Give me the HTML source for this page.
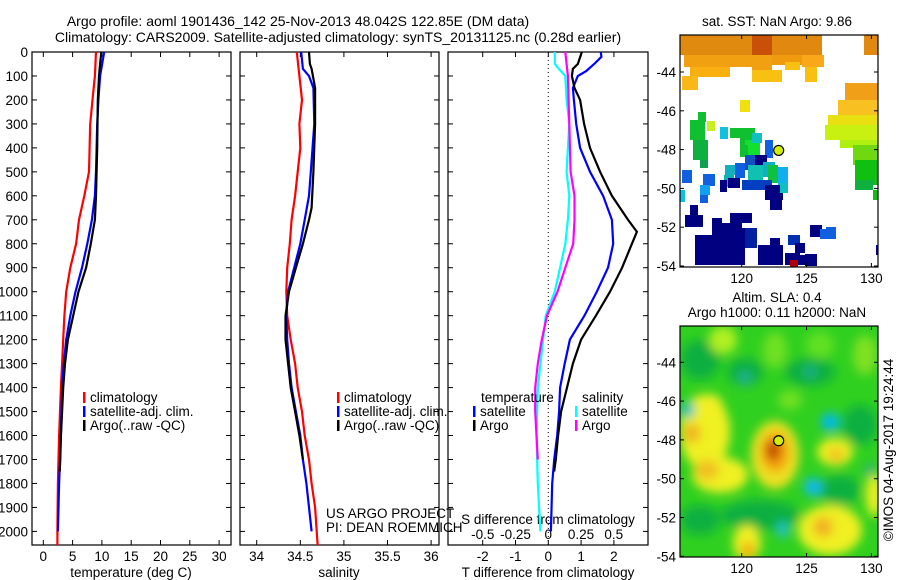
<!DOCTYPE html>
<html><head><meta charset="utf-8"><style>
body{margin:0;background:#fff;}
svg{display:block;font-family:"Liberation Sans",sans-serif;}
text{font-size:13.5px;fill:#000;}
.ttl{font-size:14px;}
</style></head><body>
<svg id="fig" width="900" height="580" viewBox="0 0 900 580">
<defs>
<clipPath id="c1"><rect x="32" y="52" width="199" height="493"/></clipPath>
<clipPath id="c2"><rect x="240" y="52" width="199" height="493"/></clipPath>
<clipPath id="c3"><rect x="448" y="52" width="200" height="493"/></clipPath>
<clipPath id="cm1"><rect x="680" y="35" width="198" height="232"/></clipPath>
<clipPath id="cm2"><rect x="680" y="326" width="198" height="231"/></clipPath>
<filter id="bl" x="-50%" y="-50%" width="200%" height="200%"><feGaussianBlur stdDeviation="5"/></filter>
</defs>
<text class="ttl" x="298" y="26" text-anchor="middle">Argo profile: aoml 1901436_142 25-Nov-2013 48.042S 122.85E (DM data)</text>
<text class="ttl" x="338" y="42" text-anchor="middle">Climatology: CARS2009. Satellite-adjusted climatology: synTS_20131125.nc (0.28d earlier)</text>
<g id="p1"></g>
<g id="p2"></g>
<g id="p3"></g>
<g id="m1"></g>
<g id="m2"></g>
<text x="777" y="26" text-anchor="middle">sat. SST: NaN Argo: 9.86</text>
<text x="777" y="302" text-anchor="middle">Altim. SLA: 0.4</text>
<text x="777" y="317" text-anchor="middle">Argo h1000: 0.11 h2000: NaN</text>
<text transform="translate(893,450) rotate(-90)" text-anchor="middle">©IMOS 04-Aug-2017 19:24:44</text>
</svg>
<script>
// ---- data ----
const depthTicks=[0,100,200,300,400,500,600,700,800,900,1000,1100,1200,1300,1400,1500,1600,1700,1800,1900,2000];
const tempTicks=[0,5,10,15,20,25,30];
const salTicks=[34,34.5,35,35.5,36];
const tdiffTicks=[-2,-1,0,1,2];
const sdiffTicks=[-0.5,-0.25,0,0.25,0.5];
const lonTicks=[120,125,130];
const latTicks=[-44,-46,-48,-50,-52,-54];

const tClimDepth=[0,100,200,300,400,500,600,700,800,900,1000,1100,1200,1300,1400,1600,1800,2000,2060];
const tClim=[9.0,8.8,8.4,8.0,7.9,7.8,7.0,6.1,5.6,4.6,3.9,3.6,3.4,3.2,3.0,2.7,2.5,2.4,2.4];
const tSatDepth=[0,100,200,300,500,600,700,800,900,1000,1100,1200,1300,1400,1600,1800,2000];
const tSat=[10.4,9.7,9.4,9.2,9.0,8.8,8.3,7.5,6.6,5.5,4.6,3.9,3.5,3.2,3.0,2.7,2.5];
const tArgoDepth=[0,50,100,200,400,600,700,800,900,1000,1100,1200,1300,1400,1500,1600,1700,1750];
const tArgo=[9.9,9.7,9.5,9.3,9.2,9.0,8.8,8.1,7.3,6.0,5.1,4.2,3.7,3.4,3.2,3.0,2.9,2.8];

const sClimDepth=[0,100,200,300,400,600,700,800,900,1000,1100,1200,1300,1400,1500,1600,1700,1800,1900,2060];
const sClim=[34.46,34.49,34.52,34.49,34.50,34.44,34.40,34.38,34.35,34.34,34.35,34.39,34.44,34.47,34.52,34.55,34.60,34.63,34.67,34.70];
const sSatDepth=[0,70,100,150,300,500,600,700,800,900,1000,1100,1200,1300,1400,1500,1600,1700,1800,1900,2000];
const sSat=[34.51,34.53,34.60,34.65,34.66,34.62,34.60,34.55,34.50,34.43,34.36,34.34,34.35,34.37,34.40,34.45,34.50,34.53,34.57,34.60,34.63];
const sArgoDepth=[0,50,70,150,300,500,650,700,800,900,1000,1100,1200,1300,1400,1500,1600,1700];
const sArgo=[34.60,34.61,34.63,34.67,34.67,34.65,34.63,34.60,34.53,34.45,34.37,34.33,34.33,34.36,34.39,34.44,34.49,34.53];

const dTArgoDepth=[0,50,70,100,150,200,300,400,500,600,700,750,800,900,1000,1100,1200,1300,1400,1500,1600,1700,1750];
const dTArgo=[1.02,0.9,0.75,0.72,0.8,0.97,1.09,1.27,1.58,1.94,2.43,2.7,2.55,2.25,1.88,1.45,1.0,0.75,0.57,0.39,0.3,0.23,0.18];
const dTSatDepth=[0,20,50,80,100,150,200,300,400,500,600,700,800,900,1000,1100,1200,1300,1400,1500,1600,1700,1800,2000];
const dTSat=[1.6,1.62,1.4,1.15,0.9,0.75,0.78,0.85,0.97,1.27,1.67,1.94,1.98,1.82,1.48,1.1,0.66,0.5,0.36,0.33,0.27,0.18,0.12,0.08];
const dSSatDepth=[0,50,70,100,200,300,400,500,600,700,800,900,1000,1100,1200,1400,1600,1800,2000];
const dSSat=[0.05,0.05,0.08,0.13,0.14,0.16,0.15,0.14,0.16,0.15,0.13,0.09,0.05,-0.02,-0.04,-0.08,-0.09,-0.08,-0.06];
const dSArgoDepth=[0,100,300,500,600,700,800,900,1000,1100,1200,1300,1400,1500,1600,1700];
const dSArgo=[0.13,0.15,0.16,0.17,0.2,0.2,0.19,0.13,0.07,-0.01,-0.05,-0.08,-0.1,-0.1,-0.09,-0.08];

const floatLon=122.85, floatLat=-48.042;

// ---- helpers ----
const NS='http://www.w3.org/2000/svg';
function mk(parent,tag,attrs){const e=document.createElementNS(NS,tag);for(const k in attrs)e.setAttribute(k,attrs[k]);parent.appendChild(e);return e;}
const yD=d=>52+d*0.2397;
const xT=t=>43.3+t*5.86;
const xS=s=>256.7+(s-34)*87.2;
const xDT=v=>548.3+v*32.8;
const xDS=v=>548.3+v*131;
const xLon=l=>741.7+(l-120)*12.97;
const yLat1=l=>72+(-44-l)*19.4;
const yLat2=l=>362.3+(-44-l)*19.4;

function frame(g,x,w,name){
  const r=mk(g,'rect',{x:x,y:52,width:w,height:493,fill:'none',stroke:'#000','stroke-width':1.2});
  
  
  depthTicks.forEach(d=>{
    const y=yD(d);
    mk(g,'line',{x1:x,x2:x+5,y1:y,y2:y,stroke:'#000'});
    mk(g,'line',{x1:x+w-5,x2:x+w,y1:y,y2:y,stroke:'#000'});
  });
}
function xticks(g,vals,fx,labY,fmt){
  vals.forEach(v=>{
    const x=fx(v);
    mk(g,'line',{x1:x,x2:x,y1:545,y2:540,stroke:'#000'});
    mk(g,'line',{x1:x,x2:x,y1:52,y2:57,stroke:'#000'});
    if(labY){const t=mk(g,'text',{x:x,y:labY,'text-anchor':'middle'});t.textContent=fmt?fmt(v):v;
      
      }
  });
}
function line(g,depths,vals,fx,color,clip,name){
  const pts=depths.map((d,i)=>fx(vals[i]).toFixed(1)+','+yD(d).toFixed(1)).join(' ');
  const p=mk(g,'polyline',{points:pts,fill:'none',stroke:color,'stroke-width':2.2,'clip-path':'url(#'+clip+')'});
  
  
}
function legend(g,x,y,items){
  items.forEach((it,i)=>{
    mk(g,'rect',{x:x,y:y+i*14-10,width:2.5,height:11,fill:it[1]});
    const t=mk(g,'text',{x:x+7,y:y+i*14});t.textContent=it[0];
    
    
  });
}
function label(g,x,y,s,anchor,name){const t=mk(g,'text',{x:x,y:y,'text-anchor':anchor||'middle'});t.textContent=s;
  
  return t;}

// ---- panel 1 ----
const p1=document.getElementById('p1');
frame(p1,32,199,'temperature-axes');
depthTicks.forEach(d=>{label(p1,28,yD(d)+5,String(d),'end','y-tick-label');});
xticks(p1,tempTicks,xT,561);
label(p1,131,577,'temperature (deg C)','middle','x-axis-title');
line(p1,tClimDepth,tClim,xT,'#f00','c1','temp-climatology-line');
line(p1,tSatDepth,tSat,xT,'#00f','c1','temp-satellite-line');
line(p1,tArgoDepth,tArgo,xT,'#000','c1','temp-argo-line');
legend(p1,83,402,[['climatology','#f00'],['satellite-adj. clim.','#00f'],['Argo(..raw -QC)','#000']]);

// ---- panel 2 ----
const p2=document.getElementById('p2');
frame(p2,240,199,'salinity-axes');
xticks(p2,salTicks,xS,561);
label(p2,339,577,'salinity','middle','x-axis-title');
line(p2,sClimDepth,sClim,xS,'#f00','c2','sal-climatology-line');
line(p2,sSatDepth,sSat,xS,'#00f','c2','sal-satellite-line');
line(p2,sArgoDepth,sArgo,xS,'#000','c2','sal-argo-line');
legend(p2,337,402,[['climatology','#f00'],['satellite-adj. clim.','#00f'],['Argo(..raw -QC)','#000']]);
label(p2,326,518,'US ARGO PROJECT','start','project-note');
label(p2,326,532,'PI: DEAN ROEMMICH','start','pi-note');

// ---- panel 3 ----
const p3=document.getElementById('p3');
frame(p3,448,200,'difference-axes');
mk(p3,'line',{x1:xDT(0),x2:xDT(0),y1:52,y2:545,stroke:'#000','stroke-dasharray':'1,3'});
xticks(p3,tdiffTicks,xDT,561);
sdiffTicks.forEach(v=>label(p3,xDS(v),539,String(v),'middle','s-tick-label'));
label(p3,548,524,'S difference from climatology','middle','s-axis-title');
label(p3,548,577,'T difference from climatology','middle','t-axis-title');
line(p3,dSSatDepth,dSSat,xDS,'#0ff','c3','sdiff-satellite-line');
line(p3,dSArgoDepth,dSArgo,xDS,'#f0f','c3','sdiff-argo-line');
line(p3,dTSatDepth,dTSat,xDT,'#00f','c3','tdiff-satellite-line');
line(p3,dTArgoDepth,dTArgo,xDT,'#000','c3','tdiff-argo-line');
label(p3,481,402,'temperature','start','legend-title-temperature');
label(p3,582,402,'salinity','start','legend-title-salinity');
legend(p3,473,416,[['satellite','#00f'],['Argo','#000']]);
legend(p3,575,416,[['satellite','#0ff'],['Argo','#f0f']]);

// ---- map 1 (SST raster) ----
const sstCells=[
[680,35,85,20,'#e08a10'],[684,55,80,12,'#f0a010'],[690,67,40,10,'#f8b010'],[682,76,16,14,'#f8b818'],
[752,35,20,20,'#c85008'],[772,35,50,20,'#e08810'],[752,55,20,15,'#f0a010'],[772,55,30,10,'#f09a10'],[802,55,22,12,'#f8a818'],
[752,70,30,12,'#f8c010'],[805,67,12,15,'#f8c010'],[785,62,15,8,'#f8c010'],[864,35,14,20,'#e08810'],
[845,83,33,20,'#f0a018'],[838,100,40,15,'#f8c020'],[828,115,50,15,'#e8e010'],[825,125,53,15,'#c8f010'],[840,140,38,8,'#b0f010'],
[853,145,25,20,'#70d810'],[855,160,23,25,'#10c010'],[855,180,18,10,'#10b040'],[873,190,5,10,'#10c010'],
[740,100,10,12,'#f0e010'],
[690,120,15,20,'#10c030'],[698,112,8,10,'#10c030'],[707,121,8,10,'#c8f020'],[693,140,15,20,'#10b040'],[700,160,8,8,'#10a050'],
[730,128,10,10,'#10c030'],[720,127,8,12,'#10c0e0'],[740,128,15,20,'#10c030'],[745,140,15,15,'#10e030'],[740,145,8,12,'#10c030'],
[752,133,10,10,'#10c0c0'],[765,140,8,18,'#1060e0'],
[745,155,10,15,'#1050c0'],[755,155,12,15,'#000080'],[735,163,10,15,'#1060e0'],[748,165,15,15,'#10c0b0'],[763,162,12,15,'#10b0c0'],
[768,165,10,18,'#10c040'],[778,167,10,18,'#10b0f0'],[742,180,30,10,'#0040c0'],[765,185,18,15,'#000080'],[770,200,12,10,'#000080'],
[724,175,10,12,'#10b0b0'],[725,165,10,10,'#10b0c0'],[703,174,12,12,'#1060e0'],[682,170,10,13,'#1060e0'],[680,190,5,12,'#10c0e0'],
[700,185,10,10,'#10a0f0'],[700,195,8,8,'#1060e0'],[720,180,7,12,'#000080'],[728,178,12,10,'#000080'],[780,183,8,10,'#10c0c0'],
[690,205,8,20,'#000080'],[685,215,18,12,'#000080'],[712,218,10,20,'#000080'],[720,223,10,20,'#000080'],[730,213,12,15,'#000080'],
[740,213,12,10,'#000080'],[695,235,50,30,'#000080'],[730,228,20,15,'#000080'],[745,228,12,20,'#0020a0'],[770,238,10,15,'#000080'],
[788,235,12,10,'#0030b0'],[795,243,10,10,'#000080'],[785,253,15,12,'#000080'],[805,254,12,12,'#000080'],[810,225,12,12,'#000080'],
[820,229,10,10,'#1060e0'],[826,227,10,12,'#1060e0'],[758,245,25,20,'#000080'],[800,255,6,10,'#000080'],[876,245,2,10,'#000080'],
[790,260,8,7,'#b00000']
];
const m1=document.getElementById('m1');
const gr1=mk(m1,'g',{'clip-path':'url(#cm1)'});
sstCells.forEach(c=>{const r=mk(gr1,'rect',{x:c[0],y:c[1],width:c[2],height:c[3],fill:c[4]});
  
  });

// ---- map 2 (SLA field) ----
const slaBlobs=[
// darker green patches
[700,360,20,20,'#10b040'],[745,372,18,14,'#10b040'],[810,372,25,14,'#10b040'],[760,515,40,15,'#10b040'],[860,425,18,20,'#10b040'],[700,520,20,15,'#10b040'],[840,490,20,15,'#10b040'],
// light green / yellow-green patches
[723,340,14,14,'#b0f020'],[775,350,12,18,'#70e020'],[820,345,14,14,'#60e020'],[865,355,12,20,'#80e020'],[790,400,12,10,'#70e020'],
// yellow regions
[705,432,25,38,'#f0f020'],[712,412,12,18,'#f0f020'],[720,475,28,18,'#f0f020'],[692,433,8,10,'#f0b020'],[707,470,12,10,'#f0c020'],
[775,455,24,34,'#f0e020'],[775,452,14,20,'#f0a010'],[773,450,7,10,'#c04000'],
[835,452,18,14,'#f0f020'],[836,455,8,7,'#f0c020'],
[747,543,14,18,'#f0f020'],[748,550,6,8,'#f0a010'],
[830,530,32,25,'#f0f020'],[823,527,10,10,'#f0b020'],[874,495,8,22,'#f0f020'],
// cyan/teal dots
[830,422,9,9,'#00b8f0'],[813,487,9,9,'#10b8f0'],[783,530,6,8,'#20c0d0'],[688,410,7,8,'#20c0c0'],
[745,378,7,7,'#20b090'],[810,372,6,6,'#20b090'],[870,470,6,6,'#30b080']
];
const m2=document.getElementById('m2');
const gr2=mk(m2,'g',{'clip-path':'url(#cm2)'});
mk(gr2,'rect',{x:680,y:326,width:198,height:231,fill:'#30d020'});
const bg=mk(gr2,'g',{filter:'url(#bl)'});
slaBlobs.forEach(b=>{const e=mk(bg,'ellipse',{cx:b[0],cy:b[1],rx:b[2],ry:b[3],fill:b[4]});
  
  });

function mapAxes(g,top,h,yLat,name){
  const r=mk(g,'rect',{x:680,y:top,width:198,height:h,fill:'none',stroke:'#000','stroke-width':1.2});
  
  
  latTicks.forEach(l=>{const y=yLat(l);
    mk(g,'line',{x1:680,x2:684,y1:y,y2:y,stroke:'#000'});
    mk(g,'line',{x1:874,x2:878,y1:y,y2:y,stroke:'#000'});
    label(g,676,y+5,String(l),'end','lat-tick-label');});
  lonTicks.forEach(l=>{const x=xLon(l);
    mk(g,'line',{x1:x,x2:x,y1:top,y2:top+4,stroke:'#000'});
    mk(g,'line',{x1:x,x2:x,y1:top+h,y2:top+h-4,stroke:'#000'});
    label(g,x,top+h+16,String(l),'middle','lon-tick-label');});
  const c=mk(g,'circle',{cx:xLon(floatLon),cy:yLat(floatLat),r:5,fill:'#d0f000',stroke:'#000','stroke-width':1.2});
  
  
}
mapAxes(m1,35,232,yLat1,'sst-map-axes');
mapAxes(m2,326,231,yLat2,'sla-map-axes');
</script>
</body></html>
